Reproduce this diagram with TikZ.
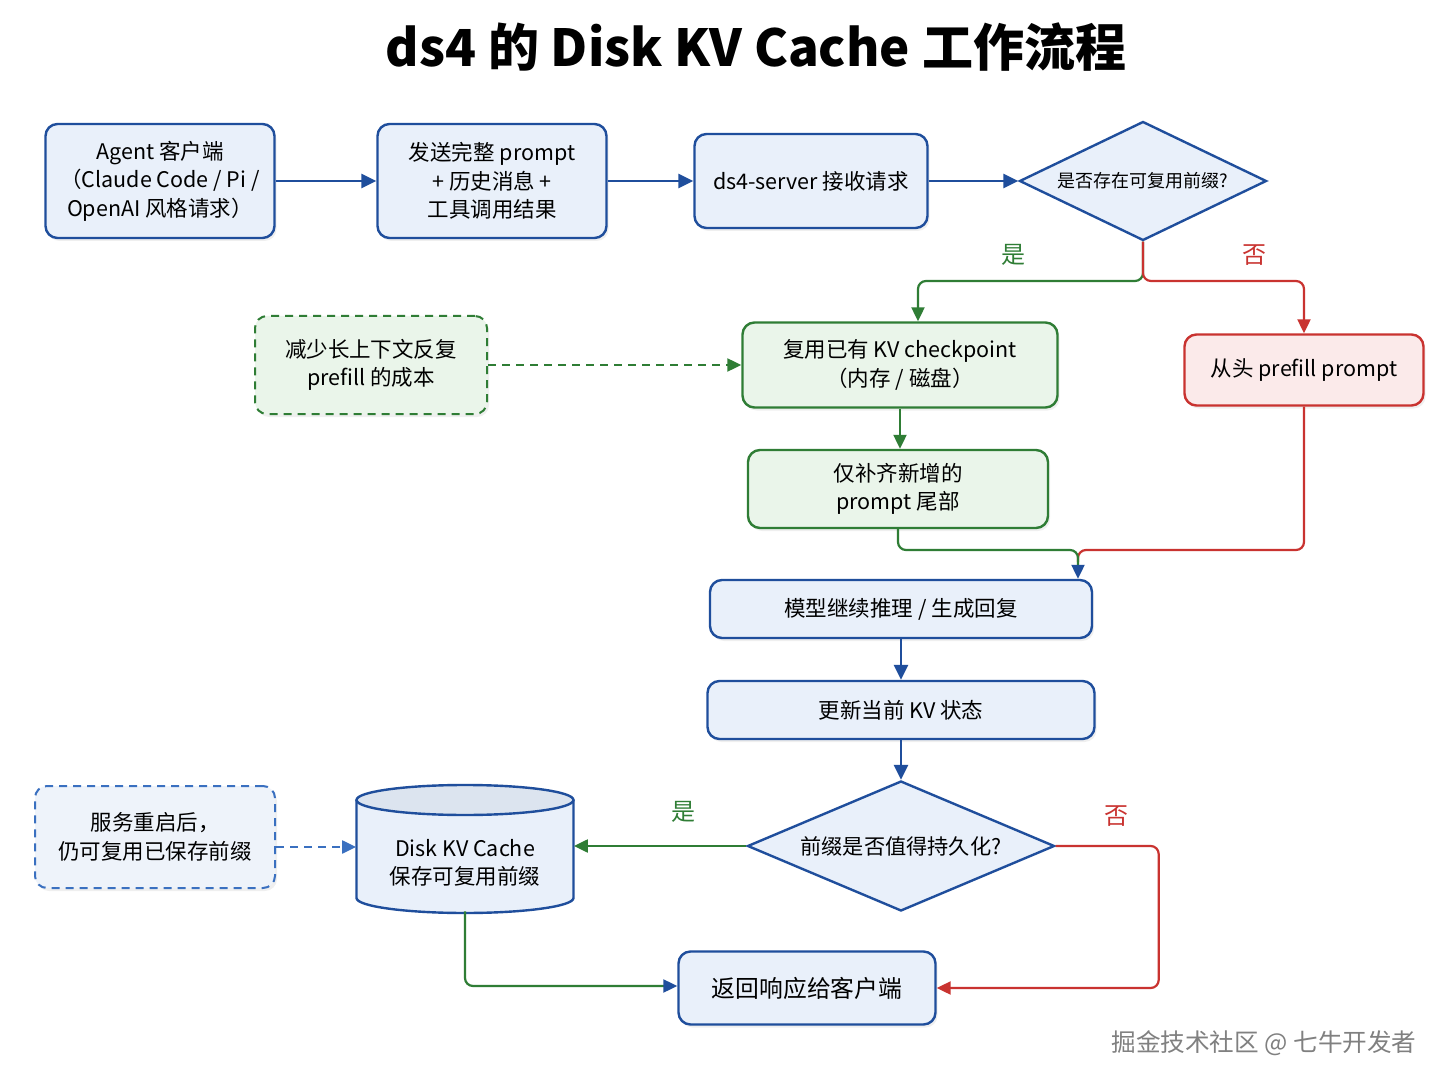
\documentclass[tikz,border=0pt]{standalone}
\usepackage{fontspec}
\setmainfont{Noto Sans CJK SC}
\usetikzlibrary{arrows.meta,shapes.geometric,shadows}
\definecolor{bluebd}{HTML}{1F4E9C}
\definecolor{bluefill}{HTML}{E9F0FA}
\definecolor{greenbd}{HTML}{2F7D35}
\definecolor{greenfill}{HTML}{EAF5EA}
\definecolor{redbd}{HTML}{C93330}
\definecolor{redfill}{HTML}{FBEAEA}
\definecolor{dashbd}{HTML}{3A70C0}
\definecolor{notefill}{HTML}{EEF3FA}
\definecolor{disktop}{HTML}{DCE4EF}
\tikzset{
  box/.style={draw=bluebd,fill=bluefill,line width=1.2pt,rounded corners=6pt,align=center,inner sep=2pt,
    font=\fontsize{10.75}{14.25}\selectfont,drop shadow={shadow xshift=1pt,shadow yshift=-1.5pt,opacity=0.12}},
  greenbox/.style={box,draw=greenbd,fill=greenfill},
  redbox/.style={box,draw=redbd,fill=redfill},
  greennote/.style={greenbox,line width=1pt,dash pattern=on 4pt off 3pt},
  bluenote/.style={box,draw=dashbd,fill=notefill,line width=1pt,dash pattern=on 4pt off 3pt},
  decision/.style={diamond,draw=bluebd,fill=bluefill,line width=1.2pt,align=center,inner sep=1pt,
    font=\fontsize{10.6}{13}\selectfont},
  blueflow/.style={draw=bluebd,line width=1.4pt,-{Triangle[length=7.5pt,width=7pt]}},
  greenflow/.style={draw=greenbd,line width=1.1pt,rounded corners=4pt,-{Triangle[length=7pt,width=6.5pt]}},
  redflow/.style={draw=redbd,line width=1.1pt,rounded corners=4pt,-{Triangle[length=7pt,width=6.5pt]}},
  dashgreen/.style={greenflow,dash pattern=on 4pt off 3pt},
  dashblue/.style={greenflow,draw=dashbd,dash pattern=on 4pt off 3pt},
  answer/.style={font=\fontsize{12}{14}\selectfont}
}
\begin{document}
\begin{tikzpicture}[x=0.5pt,y=-0.5pt]
  \useasboundingbox[fill=white] (0,0) rectangle (1448,1086);
  \node[font=\fontsize{25.5}{29}\selectfont\bfseries] (title) at (756,47) {ds4 的 Disk KV Cache 工作流程};
  \node[box,minimum width=114.5pt,minimum height=57pt] (agent) at (160,181) {Agent 客户端\\（Claude Code / Pi /\\OpenAI 风格请求）};
  \node[box,minimum width=114.5pt,minimum height=57pt] (send) at (492,181) {发送完整 prompt\\+ 历史消息 +\\工具调用结果};
  \node[box,minimum width=116.5pt,minimum height=47pt] (server) at (811,181) {ds4-server 接收请求};
  \node[decision,aspect=2.08,minimum width=123.5pt,minimum height=59.5pt,font=\fontsize{9}{11}\selectfont] (hasprefix) at (1143,181) {是否存在可复用前缀?};
  \node[greenbox,minimum width=157.5pt,minimum height=42.5pt] (reuse) at (900,365) {复用已有 KV checkpoint\\（内存 / 磁盘）};
  \node[redbox,minimum width=119.5pt,minimum height=35.5pt] (scratch) at (1304,370) {从头 prefill prompt};
  \node[greennote,minimum width=116pt,minimum height=49pt] (savecost) at (371,365) {减少长上下文反复\\prefill 的成本};
  \node[greenbox,minimum width=150pt,minimum height=39pt] (tail) at (898,489) {仅补齐新增的\\prompt 尾部};
  \node[box,minimum width=191pt,minimum height=29pt] (infer) at (901,609) {模型继续推理 / 生成回复};
  \node[box,minimum width=193.5pt,minimum height=29pt] (update) at (901,710) {更新当前 KV 状态};
  \node[decision,aspect=2.36,minimum width=153.5pt,minimum height=65pt] (persist) at (901,846) {前缀是否值得持久化?};
  \fill[bluefill] (356.5,800) -- (356.5,898) arc[start angle=180,end angle=360,x radius=54.25pt,y radius=7.5pt] -- (573.5,800) -- cycle;
  \fill[disktop] (465,800) ellipse[x radius=54.25pt,y radius=7.5pt];
  \draw[bluebd,line width=1.2pt] (356.5,800) -- (356.5,898) arc[start angle=180,end angle=360,x radius=54.25pt,y radius=7.5pt] -- (573.5,800);
  \draw[bluebd,line width=1.2pt] (465,800) ellipse[x radius=54.25pt,y radius=7.5pt];
  \node[minimum width=108.5pt,minimum height=64pt,inner sep=0pt] (disk) at (465,847) {};
  \node[align=center,font=\fontsize{10.75}{14.25}\selectfont] (disktext) at (465,863) {Disk KV Cache\\保存可复用前缀};
  \node[bluenote,minimum width=120pt,minimum height=51pt] (restart) at (155,837) {服务重启后，\\仍可复用已保存前缀};
  \node[box,minimum width=128.5pt,minimum height=36.5pt,font=\fontsize{11.9}{14}\selectfont] (reply) at (807,988) {返回响应给客户端};

  \draw[blueflow] (agent) -- (send);
  \draw[blueflow] (send) -- (server);
  \draw[blueflow] (server) -- (hasprefix);
  \coordinate (fork) at (1143,281);
  \draw[greenflow] (hasprefix.south) -- (fork) -| ([xshift=9pt]reuse.north);
  \draw[redflow] (hasprefix.south) -- (fork) -| (scratch.north);
  \node[answer,text=greenbd] (yes1) at (1013,255) {是};
  \node[answer,text=redbd] (no1) at (1254,255) {否};
  \draw[dashgreen] (savecost) -- (reuse);
  \draw[greenflow] (reuse) -- (reuse |- tail.north);
  \coordinate (join) at (1078,550);
  \draw[redflow,-] (scratch.south) |- (join) -- ++(0,12);
  \draw[greenflow,-{Triangle[length=7pt,width=6.5pt,color=bluebd]}] (tail.south) |- (join) -- (join |- infer.north);
  \draw[blueflow] (infer) -- (update);
  \draw[blueflow] (update) -- (persist);
  \draw[greenflow] (persist.west) -- (persist.west -| disk.east);
  \node[answer,text=greenbd] (yes2) at (683,812) {是};
  \draw[redflow] (persist.east) -- ++(103,0) |- (reply.east);
  \node[answer,text=redbd] (no2) at (1116,816) {否};
  \draw[dashblue] (restart.east |- disk.west) -- (disk.west);
  \draw[greenflow,-{Triangle[length=7pt,width=6.5pt,color=bluebd]}] (disk.south) |- ([yshift=1pt]reply.west);
  \node[font=\fontsize{12.3}{14}\selectfont,text=black!50] (mark) at (1264,1043) {掘金技术社区 @ 七牛开发者};
\end{tikzpicture}
\end{document}
